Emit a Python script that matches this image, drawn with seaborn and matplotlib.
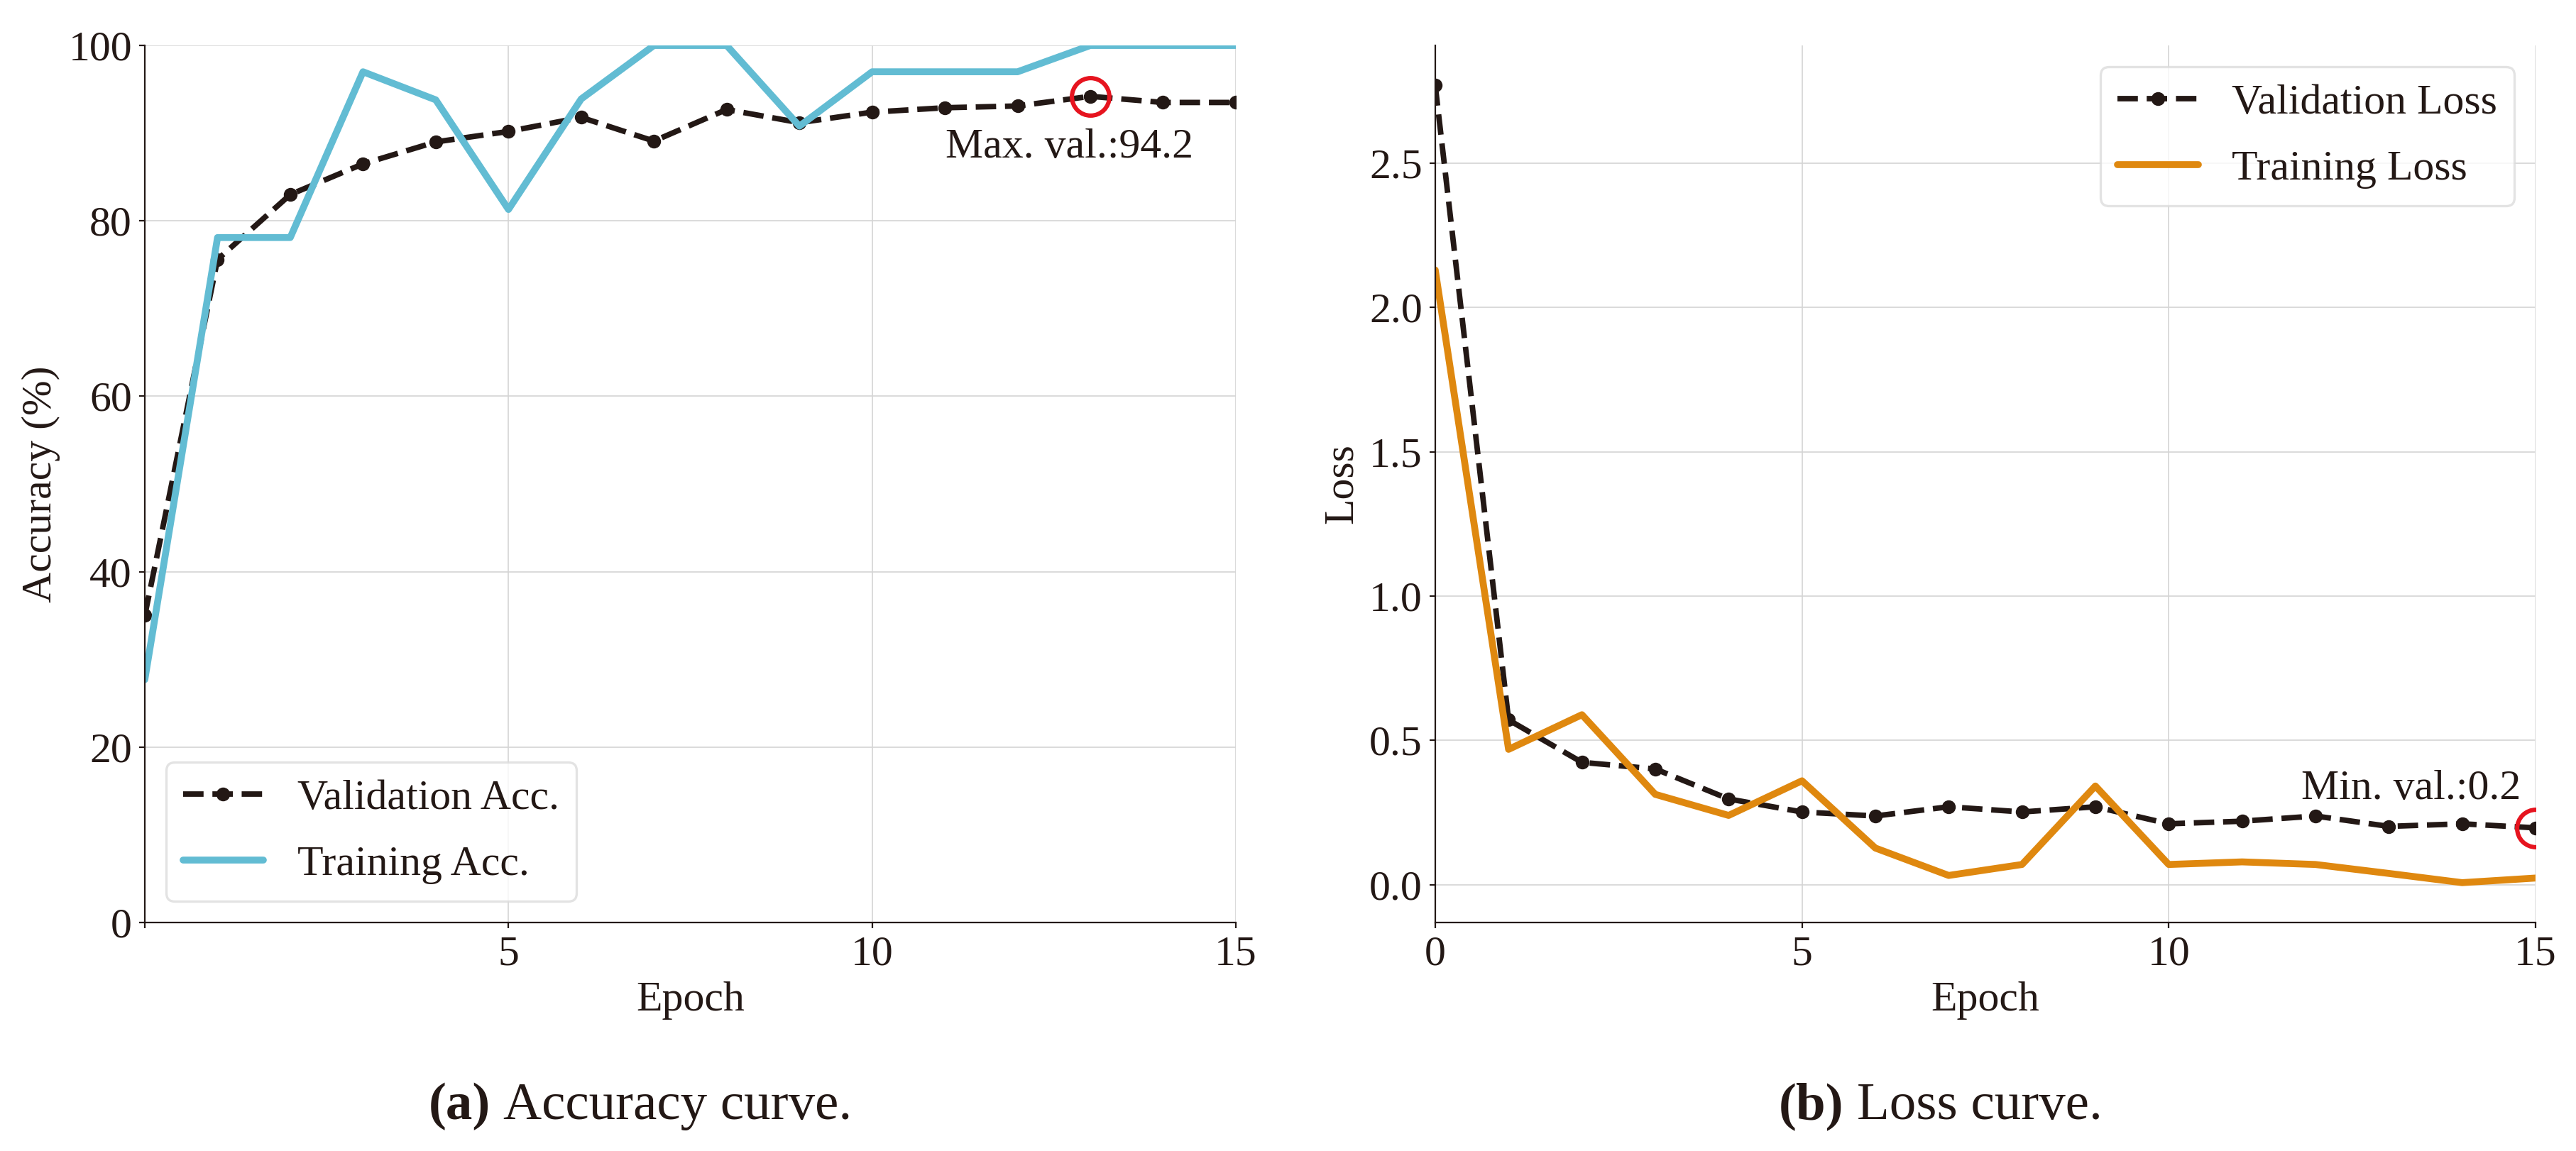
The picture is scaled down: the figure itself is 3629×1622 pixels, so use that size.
import matplotlib
matplotlib.use("Agg")
import matplotlib.pyplot as plt
import seaborn as sns
import pandas as pd

# ---------- DATA ----------
epochs = list(range(16))
val_acc = [35.0, 75.6, 83.0, 86.5, 89.0, 90.2, 91.8, 89.1, 92.7, 91.2,
           92.4, 92.9, 93.1, 94.2, 93.5, 93.5]
train_acc = [27.7, 78.1, 78.1, 97.0, 93.8, 81.3, 93.9, 100.0, 100.0, 90.8,
             97.0, 97.0, 97.0, 100.0, 100.0, 100.0]
val_loss = [2.77, 0.571, 0.424, 0.401, 0.297, 0.252, 0.238, 0.270, 0.252, 0.270,
            0.211, 0.220, 0.238, 0.202, 0.211, 0.197]
train_loss = [2.13, 0.469, 0.589, 0.313, 0.240, 0.360, 0.127, 0.032, 0.070, 0.342,
              0.070, 0.079, 0.070, 0.039, 0.007, 0.023]

acc_df = pd.DataFrame({"Epoch": epochs, "val": val_acc, "train": train_acc})
loss_df = pd.DataFrame({"Epoch": epochs, "val": val_loss, "train": train_loss})

# ---------- STYLE ----------
INK = "#231815"
CYAN = "#62bcd3"
ORANGE = "#df880f"
RED = "#e6141f"
FS = 21.5

sns.set_theme(style="ticks", rc={
    "axes.edgecolor": INK,
    "axes.labelcolor": INK,
    "xtick.color": INK,
    "ytick.color": INK,
    "text.color": INK,
    "axes.linewidth": 0.8,
    "xtick.major.width": 0.8,
    "ytick.major.width": 0.8,
    "xtick.major.size": 3,
    "ytick.major.size": 3,
    "font.size": FS,
    "axes.labelsize": FS,
    "xtick.labelsize": FS,
    "ytick.labelsize": FS,
    "legend.fontsize": FS,
})
plt.rcParams["font.family"] = ["Liberation Serif", "DejaVu Serif"]

fig = plt.figure(figsize=(18.15, 8.11), dpi=200)
ax1 = fig.add_axes([0.0562, 0.1985, 0.4234, 0.7620])
ax2 = fig.add_axes([0.5570, 0.1985, 0.4270, 0.7620])


def draw_pair(ax, df, train_color, val_label, train_label):
    sns.lineplot(data=df, x="Epoch", y="val", ax=ax, color=INK, lw=2.8,
                 linestyle="--", marker="o", markersize=7, markeredgewidth=0,
                 label=val_label)
    sns.lineplot(data=df, x="Epoch", y="train", ax=ax, color=train_color, lw=3.5,
                 label=train_label)
    ax.grid(True, color="#d4d4d4", lw=0.6)
    ax.set_axisbelow(True)
    sns.despine(ax=ax)
    ax.set_xlim(0, 15)
    ax.set_xlabel("Epoch")


def style_legend(ax, loc):
    leg = ax.legend(loc=loc, frameon=True, fancybox=True, handlelength=1.9,
                    handletextpad=0.8, labelspacing=0.65, borderpad=0.4)
    leg.get_frame().set_edgecolor("#dcdcdc")
    leg.get_frame().set_linewidth(1.2)
    return leg


# ---------- ACCURACY ----------
draw_pair(ax1, acc_df, CYAN, "Validation Acc.", "Training Acc.")
ax1.set_ylim(0, 100)
ax1.set_yticks([0, 20, 40, 60, 80, 100])
ax1.set_xticks([0, 5, 10, 15])
ax1.set_xticklabels(["", "5", "10", "15"])
ax1.set_ylabel("Accuracy (%)")
i_max = max(range(len(val_acc)), key=lambda i: val_acc[i])
ax1.plot(epochs[i_max], val_acc[i_max], marker="o", ms=19, mfc="none",
         mec=RED, mew=2.2, zorder=5)
ax1.text(11.01, 87.2, f"Max. val.:{val_acc[i_max]:.1f}", fontsize=FS,
         ha="left", va="baseline")
style_legend(ax1, "lower left")

# ---------- LOSS ----------
draw_pair(ax2, loss_df, ORANGE, "Validation Loss", "Training Loss")
ax2.set_xticks([0, 5, 10, 15])
ax2.set_yticks([0.0, 0.5, 1.0, 1.5, 2.0, 2.5])
ax2.set_ylabel("Loss")
i_min = min(range(len(val_loss)), key=lambda i: val_loss[i])
ax2.plot(epochs[i_min], val_loss[i_min], marker="o", ms=19, mfc="none",
         mec=RED, mew=2.2, zorder=5)
ax2.text(11.81, 0.297, f"Min. val.:{val_loss[i_min]:.1f}", fontsize=FS,
         ha="left", va="baseline")
style_legend(ax2, "upper right")

# ---------- CAPTIONS ----------
CAP_FS = 27
caps = []
for cx, tag, rest in [(0.2485, "(a)", "Accuracy curve."), (0.753, "(b)", "Loss curve.")]:
    t1 = fig.text(0, 0.0277, tag, fontsize=CAP_FS, fontweight="bold", va="baseline")
    t2 = fig.text(0, 0.0277, rest, fontsize=CAP_FS, va="baseline")
    caps.append((cx, t1, t2))

fig.canvas.draw()
r = fig.canvas.get_renderer()
W = fig.bbox.width
for cx, t1, t2 in caps:
    w1 = t1.get_window_extent(r).width / W
    w2 = t2.get_window_extent(r).width / W
    gap = 0.25 * CAP_FS * 200 / 72 / W
    start = cx - (w1 + gap + w2) / 2
    t1.set_x(start)
    t2.set_x(start + w1 + gap)

fig.savefig("out.png", dpi=200)
